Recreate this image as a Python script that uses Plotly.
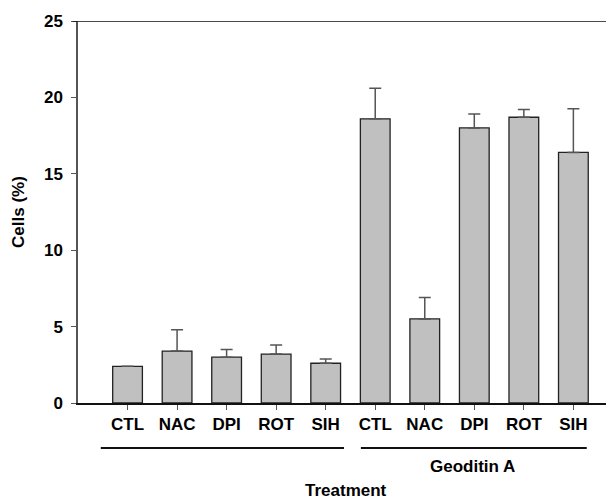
import plotly.graph_objects as go

categories = ["CTL", "NAC", "DPI", "ROT", "SIH", "CTL", "NAC", "DPI", "ROT", "SIH"]
values = [2.4, 3.4, 3.0, 3.2, 2.6, 18.6, 5.5, 18.0, 18.7, 16.4]
errors = [0.0, 1.4, 0.5, 0.6, 0.28, 2.0, 1.4, 0.92, 0.5, 2.85]
group_label = "Geoditin A"
y_ticks = [0, 5, 10, 15, 20, 25]

positions = list(range(len(categories)))
FONT = "Arial, Liberation Sans, sans-serif"
BOLD = dict(family=FONT, size=17, color="black", weight="bold")

fig = go.Figure()
fig.add_trace(go.Bar(
    x=positions, y=values, width=0.6,
    marker=dict(color="#c0c0c0", line=dict(color="#222222", width=1.3)),
    error_y=dict(type="data", array=errors, arrayminus=[0] * len(errors),
                 symmetric=False, color="#555555", thickness=1.5, width=6),
    showlegend=False,
))

# top frame line
fig.add_shape(type="line", xref="paper", x0=-0.01, x1=1, yref="y", y0=25, y1=25,
              line=dict(color="#111111", width=1.5))
# group underlines
fig.add_shape(type="line", xref="x", x0=-0.54, x1=4.37, yref="paper", y0=-0.118, y1=-0.118,
              line=dict(color="#111111", width=2))
fig.add_shape(type="line", xref="x", x0=4.71, x1=9.27, yref="paper", y0=-0.118, y1=-0.118,
              line=dict(color="#111111", width=2))
fig.add_annotation(text=group_label, xref="x", x=6.97, yref="paper", y=-0.167,
                   yanchor="middle", showarrow=False, font=BOLD)
fig.add_annotation(text="Treatment", xref="paper", x=0.5, yref="paper", y=-0.228,
                   yanchor="middle", showarrow=False, font=BOLD)
fig.add_annotation(text="Cells (%)", xref="paper", x=-0.112, yref="paper", y=0.5,
                   xanchor="center", yanchor="middle", textangle=-90,
                   showarrow=False, font=BOLD)

fig.update_layout(
    width=606, height=491,
    margin=dict(l=70, r=0, t=13, b=96),
    plot_bgcolor="white", paper_bgcolor="white",
    font=dict(family=FONT, color="black"),
    xaxis=dict(
        range=[-1.0, 9.82], tickvals=positions, ticktext=categories,
        tickfont=dict(family=FONT, size=17, color="black", weight="bold"),
        showline=True, linecolor="#111111", linewidth=2,
        ticks="outside", tickcolor="#555555", ticklen=5, tickwidth=1.2,
        showgrid=False, zeroline=False,
    ),
    yaxis=dict(
        range=[0, 25], tickvals=y_ticks,
        tickfont=dict(family=FONT, size=17, color="black", weight="bold"),
        ticklabelstandoff=5,
        showline=True, linecolor="#555555", linewidth=1.5,
        ticks="outside", tickcolor="#555555", ticklen=5, tickwidth=1.2,
        showgrid=False, zeroline=False,
    ),
)

fig.write_html("out.html")
